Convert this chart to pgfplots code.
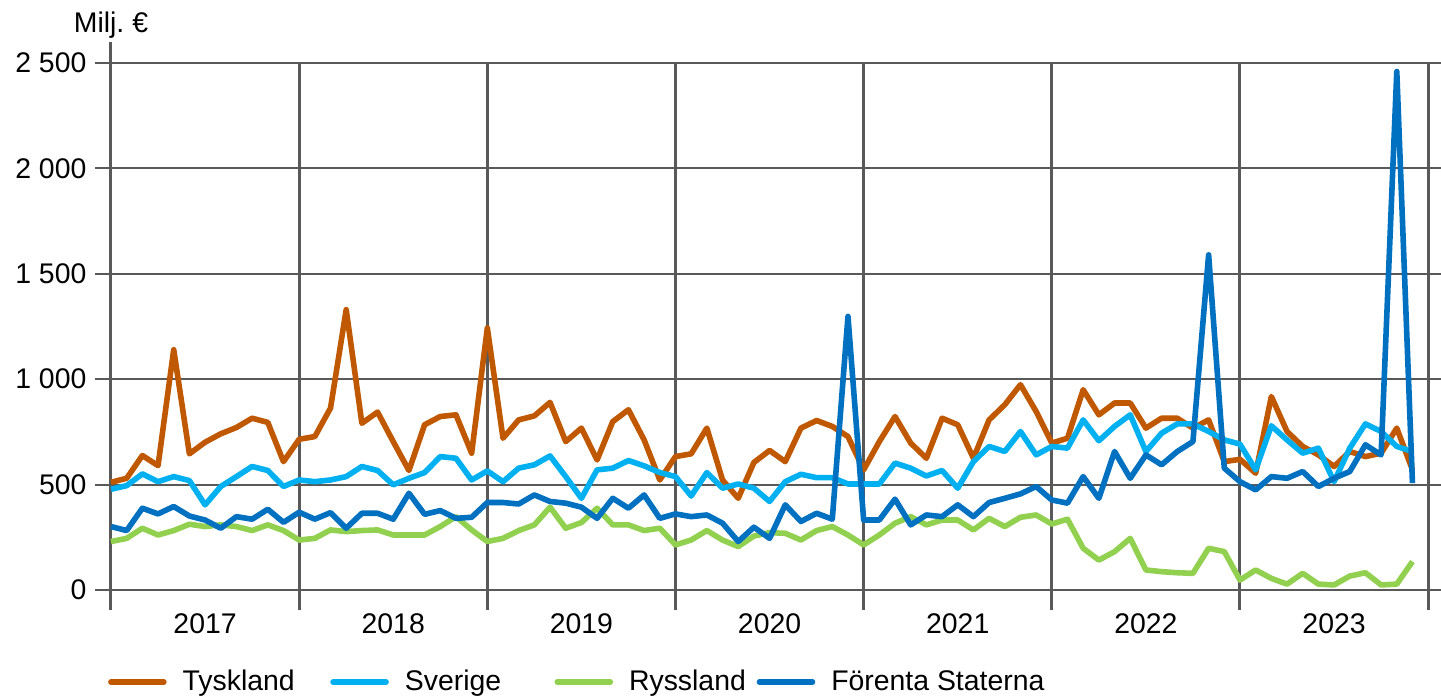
\documentclass[border=0pt]{standalone}
\usepackage{fontspec}
\setmainfont{Liberation Sans}
\usepackage{pgfplots}
\pgfplotsset{compat=1.18}

\definecolor{tysk}{RGB}{192,88,0}
\definecolor{sver}{RGB}{0,176,240}
\definecolor{ryss}{RGB}{146,208,80}
\definecolor{usa}{RGB}{0,112,192}
\definecolor{gridgray}{RGB}{89,89,89}

\begin{document}
\begin{tikzpicture}
\begin{axis}[
    scale only axis,
    width=665pt, height=263.5pt,
    xmin=0, xmax=84.82, ymin=0, ymax=2500,
    clip=false,
    axis line style={draw=none},
    tick pos=left, tick align=outside,
    font=\fontsize{14.2}{17}\selectfont,
    xtick={0,12,...,84},
    xticklabels={2017,2018,2019,2020,2021,2022,2023,{}},
    xticklabel style={xshift=47.04pt, yshift=-4pt},
    ytick={0,500,...,2500},
    yticklabels={0,500,1 000,1 500,2 000,2 500},
    yticklabel style={xshift=-4.5pt},
    xmajorgrids, ymajorgrids,
    x grid style={gridgray, line width=1.5pt},
    y grid style={gridgray, line width=1pt},
    xtick style={gridgray, line width=1.5pt, /pgfplots/major tick length=10pt},
    ytick style={gridgray, line width=1pt, /pgfplots/major tick length=8pt},
    every axis plot/.append style={line width=2.8pt, line join=round, mark=none},
    legend columns=4,
    legend image code/.code={\draw[#1, line cap=round] (0pt,0pt) -- (26.5pt,0pt);},
    legend style={
        at={(axis description cs:-0.007,-0.1746)}, anchor=west,
        draw=none, fill=none,
        font=\fontsize{14.2}{17}\selectfont,
        nodes={inner xsep=0pt},
        /tikz/every odd column/.append style={column sep=8pt},
        /tikz/column 2/.style={text width=73.8pt},
        /tikz/column 4/.style={text width=74.8pt},
        /tikz/column 6/.style={text width=63.8pt},
    },
    legend cell align=left,
]
\addplot[tysk] coordinates {
(0,511) (1,530) (2,638) (3,590) (4,1140) (5,646) (6,701) (7,741) (8,771) (9,815) (10,795) (11,609)
(12,715) (13,728) (14,863) (15,1330) (16,791) (17,844) (18,704) (19,567) (20,784) (21,823) (22,831) (23,649)
(24,1243) (25,720) (26,807) (27,826) (28,890) (29,704) (30,768) (31,617) (32,799) (33,855) (34,712) (35,522)
(36,633) (37,646) (38,768) (39,522) (40,435) (41,605) (42,662) (43,609) (44,768) (45,804) (46,776) (47,728)
(48,570) (49,704) (50,823) (51,697) (52,625) (53,815) (54,784) (55,625) (56,807) (57,879) (58,974) (59,847)
(60,697) (61,720) (62,950) (63,831) (64,887) (65,887) (66,768) (67,815) (68,815) (69,768) (70,807) (71,609)
(72,620) (73,554) (74,918) (75,752) (76,681) (77,641) (78,586) (79,657) (80,633) (81,649) (82,768) (83,570)
};
\addlegendentry{Tyskland}
\addplot[sver] coordinates {
(0,478) (1,495) (2,551) (3,514) (4,538) (5,519) (6,404) (7,491) (8,538) (9,586) (10,567) (11,491)
(12,522) (13,514) (14,522) (15,538) (16,586) (17,567) (18,499) (19,530) (20,557) (21,633) (22,625) (23,522)
(24,565) (25,514) (26,578) (27,594) (28,636) (29,538) (30,435) (31,570) (32,578) (33,614) (34,589) (35,557)
(36,538) (37,446) (38,557) (39,483) (40,503) (41,483) (42,420) (43,514) (44,549) (45,533) (46,533) (47,503)
(48,503) (49,503) (50,602) (51,578) (52,541) (53,567) (54,483) (55,609) (56,681) (57,657) (58,752) (59,641)
(60,681) (61,673) (62,807) (63,708) (64,776) (65,831) (66,657) (67,744) (68,788) (69,788) (70,752) (71,712)
(72,692) (73,570) (74,779) (75,712) (76,649) (77,673) (78,514) (79,673) (80,788) (81,752) (82,681) (83,657)
};
\addlegendentry{Sverige}
\addplot[ryss] coordinates {
(0,230) (1,245) (2,293) (3,261) (4,282) (5,312) (6,301) (7,309) (8,301) (9,282) (10,309) (11,282)
(12,237) (13,245) (14,285) (15,277) (16,282) (17,285) (18,261) (19,261) (20,261) (21,301) (22,348) (23,285)
(24,230) (25,245) (26,282) (27,309) (28,393) (29,293) (30,320) (31,388) (32,309) (33,309) (34,282) (35,293)
(36,214) (37,237) (38,282) (39,237) (40,206) (41,256) (42,272) (43,269) (44,237) (45,282) (46,301) (47,261)
(48,214) (49,261) (50,317) (51,348) (52,309) (53,332) (54,332) (55,285) (56,340) (57,301) (58,345) (59,356)
(60,313) (61,336) (62,198) (63,142) (64,182) (65,245) (66,95) (67,87) (68,82) (69,79) (70,198) (71,182)
(72,47) (73,95) (74,55) (75,28) (76,79) (77,28) (78,24) (79,66) (80,82) (81,24) (82,28) (83,135)
};
\addlegendentry{Ryssland}
\addplot[usa] coordinates {
(0,301) (1,282) (2,388) (3,361) (4,396) (5,351) (6,332) (7,293) (8,348) (9,336) (10,383) (11,321)
(12,369) (13,336) (14,367) (15,293) (16,364) (17,364) (18,336) (19,459) (20,359) (21,377) (22,340) (23,345)
(24,415) (25,415) (26,408) (27,451) (28,420) (29,412) (30,393) (31,340) (32,435) (33,388) (34,451) (35,340)
(36,361) (37,348) (38,356) (39,317) (40,230) (41,298) (42,245) (43,404) (44,325) (45,364) (46,336) (47,1298)
(48,332) (49,332) (50,431) (51,309) (52,356) (53,348) (54,404) (55,348) (56,415) (57,435) (58,456) (59,491)
(60,427) (61,412) (62,538) (63,435) (64,657) (65,530) (66,641) (67,594) (68,657) (69,704) (70,1590) (71,578)
(72,514) (73,475) (74,538) (75,530) (76,562) (77,491) (78,530) (79,562) (80,689) (81,641) (82,2460) (83,507)
};
\addlegendentry{Förenta Staterna}
\draw[gridgray, line width=1.5pt] (axis cs:0,2500) -- (axis cs:0,2600);
\node[font=\fontsize{14.2}{17}\selectfont] at (axis cs:0,2680) {Milj.~€};
\coordinate (o) at (axis cs:0,0);
\end{axis}
\pgfresetboundingbox
\path (o) ++(-55.5pt,-53.5pt) rectangle ++(720.5pt,348.5pt);
\end{tikzpicture}
\end{document}
